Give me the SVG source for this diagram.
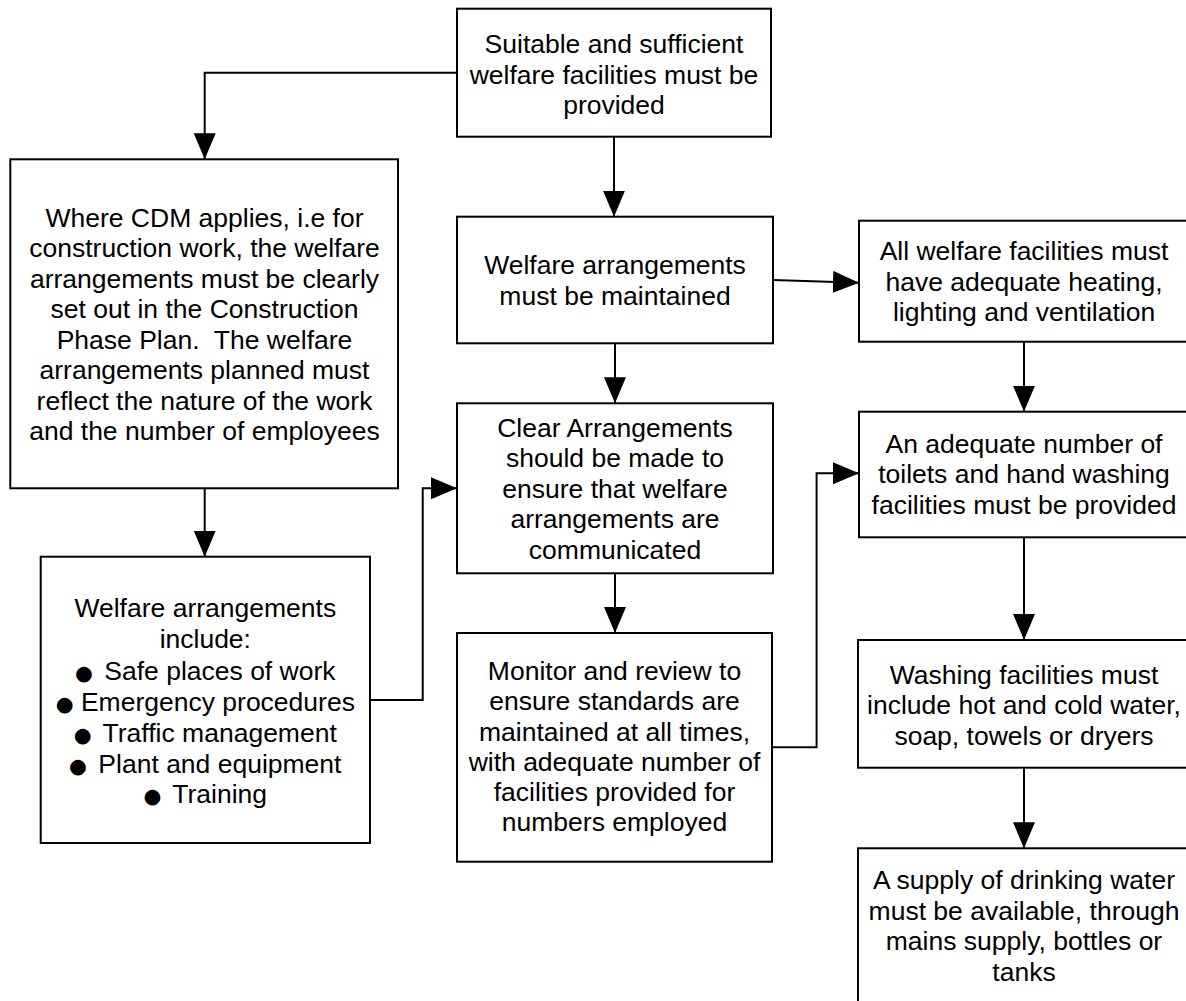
<svg xmlns="http://www.w3.org/2000/svg" width="1186" height="1001" viewBox="0 0 1186 1001">
  <style>
    .box { fill: #ffffff; stroke: #000000; stroke-width: 2; }
    .t { font-family: "Liberation Sans", Arial, sans-serif; font-size: 26.5px; text-anchor: middle; fill: #000000; }
    .b { font-family: "DejaVu Sans", sans-serif; font-size: 20.5px; }
    .link { fill: none; stroke: #000000; stroke-width: 2; }
  </style>
  <defs>
    <marker id="arrow" markerUnits="userSpaceOnUse" markerWidth="27" markerHeight="23" refX="26" refY="11" orient="auto">
      <path d="M0,0 L26,11 L0,22 Z" fill="#000000"/>
    </marker>
  </defs>
  <rect width="1186" height="1001" fill="#ffffff"/>

  <!-- connectors -->
  <g id="connectors">
    <polyline class="link" points="457,72.7 204.7,72.7 204.7,159.3" marker-end="url(#arrow)"/>
    <line class="link" x1="614" y1="136.7" x2="614" y2="216.7" marker-end="url(#arrow)"/>
    <line class="link" x1="773" y1="280" x2="859" y2="282.7" marker-end="url(#arrow)"/>
    <line class="link" x1="615" y1="343.3" x2="615" y2="403.3" marker-end="url(#arrow)"/>
    <line class="link" x1="204.7" y1="488.3" x2="204.7" y2="556.7" marker-end="url(#arrow)"/>
    <polyline class="link" points="370,700 422.7,700 422.7,488.3 457,488.3" marker-end="url(#arrow)"/>
    <line class="link" x1="615" y1="573.3" x2="615" y2="633" marker-end="url(#arrow)"/>
    <polyline class="link" points="772,747.3 816.6,747.3 816.6,473.3 859,473.3" marker-end="url(#arrow)"/>
    <line class="link" x1="1024" y1="341.7" x2="1024" y2="411.7" marker-end="url(#arrow)"/>
    <line class="link" x1="1024" y1="537.3" x2="1024" y2="640" marker-end="url(#arrow)"/>
    <line class="link" x1="1024" y1="767.7" x2="1024" y2="848.3" marker-end="url(#arrow)"/>
  </g>

  <!-- nodes -->
  <g id="node-provided">
    <rect class="box" x="457" y="8.7" width="314" height="128"/>
    <text class="t" x="614" y="53">Suitable and sufficient</text>
    <text class="t" x="614" y="83.5">welfare facilities must be</text>
    <text class="t" x="614" y="114">provided</text>
  </g>

  <g id="node-cdm">
    <rect class="box" x="10.3" y="159.3" width="387.7" height="329"/>
    <text class="t" x="204.5" y="226.5">Where CDM applies, i.e for</text>
    <text class="t" x="204.5" y="257">construction work, the welfare</text>
    <text class="t" x="204.5" y="287.5">arrangements must be clearly</text>
    <text class="t" x="204.5" y="318">set out in the Construction</text>
    <text class="t" x="204.5" y="348.5" xml:space="preserve">Phase Plan.  The welfare</text>
    <text class="t" x="204.5" y="379">arrangements planned must</text>
    <text class="t" x="204.5" y="409.5">reflect the nature of the work</text>
    <text class="t" x="204.5" y="440">and the number of employees</text>
  </g>

  <g id="node-include">
    <rect class="box" x="40.7" y="556.7" width="329.3" height="286.3"/>
    <text class="t" x="205.3" y="616.7">Welfare arrangements</text>
    <text class="t" x="205.3" y="648.3">include:</text>
    <text class="t" x="205.3" y="680"><tspan class="b">●</tspan><tspan dx="4"> Safe places of work</tspan></text>
    <text class="t" x="205.3" y="710.5"><tspan class="b">●</tspan><tspan dx="0"> Emergency procedures</tspan></text>
    <text class="t" x="205.3" y="741.5"><tspan class="b">●</tspan><tspan dx="4"> Traffic management</tspan></text>
    <text class="t" x="205.3" y="772.5"><tspan class="b">●</tspan><tspan dx="4"> Plant and equipment</tspan></text>
    <text class="t" x="205.3" y="803"><tspan class="b">●</tspan><tspan dx="4"> Training</tspan></text>
  </g>

  <g id="node-maintained">
    <rect class="box" x="457" y="216.7" width="316" height="126.6"/>
    <text class="t" x="615" y="274">Welfare arrangements</text>
    <text class="t" x="615" y="304.5">must be maintained</text>
  </g>

  <g id="node-communicated">
    <rect class="box" x="457" y="403.3" width="316" height="170"/>
    <text class="t" x="615" y="437">Clear Arrangements</text>
    <text class="t" x="615" y="467">should be made to</text>
    <text class="t" x="615" y="497.5">ensure that welfare</text>
    <text class="t" x="615" y="528">arrangements are</text>
    <text class="t" x="615" y="558.5">communicated</text>
  </g>

  <g id="node-monitor">
    <rect class="box" x="457" y="633" width="315" height="228.7"/>
    <text class="t" x="614.5" y="679.5">Monitor and review to</text>
    <text class="t" x="614.5" y="710">ensure standards are</text>
    <text class="t" x="614.5" y="740.5">maintained at all times,</text>
    <text class="t" x="614.5" y="770.5">with adequate number of</text>
    <text class="t" x="614.5" y="801">facilities provided for</text>
    <text class="t" x="614.5" y="831">numbers employed</text>
  </g>

  <g id="node-heating">
    <rect class="box" x="859" y="220.7" width="330" height="121"/>
    <text class="t" x="1024" y="260">All welfare facilities must</text>
    <text class="t" x="1024" y="290.5">have adequate heating,</text>
    <text class="t" x="1024" y="321">lighting and ventilation</text>
  </g>

  <g id="node-toilets">
    <rect class="box" x="859" y="411.7" width="330" height="125.6"/>
    <text class="t" x="1024" y="453">An adequate number of</text>
    <text class="t" x="1024" y="483">toilets and hand washing</text>
    <text class="t" x="1024" y="513.5">facilities must be provided</text>
  </g>

  <g id="node-washing">
    <rect class="box" x="858" y="640" width="331" height="127.7"/>
    <text class="t" x="1024" y="683.5">Washing facilities must</text>
    <text class="t" x="1024" y="714">include hot and cold water,</text>
    <text class="t" x="1024" y="745">soap, towels or dryers</text>
  </g>

  <g id="node-drinking">
    <rect class="box" x="858" y="848.3" width="331" height="170"/>
    <text class="t" x="1024" y="889">A supply of drinking water</text>
    <text class="t" x="1024" y="919.5">must be available, through</text>
    <text class="t" x="1024" y="950">mains supply, bottles or</text>
    <text class="t" x="1024" y="980.5">tanks</text>
  </g>
</svg>
